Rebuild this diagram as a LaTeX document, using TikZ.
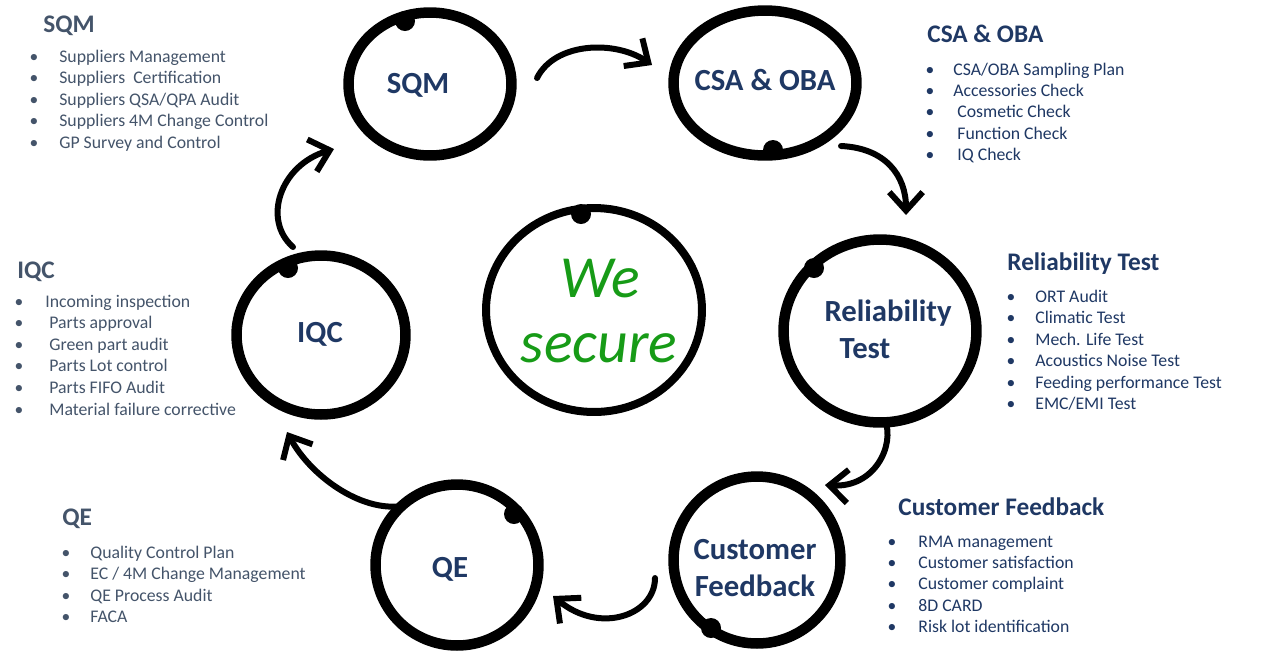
\documentclass[tikz,border=0pt]{standalone}
\usepackage{fontspec}
\setmainfont{Carlito}
\usetikzlibrary{shapes.geometric,arrows.meta}
\definecolor{navy}{HTML}{1F3864}
\definecolor{slate}{HTML}{44546A}
\definecolor{wegreen}{HTML}{179B17}
\tikzset{
 ring/.style={draw=black, ellipse, inner sep=0pt, line width=0.21cm},
 blob/.style={fill=black},
 lbl/.style={font=\fontsize{17.5}{21}\selectfont\bfseries, text=navy, inner sep=0pt, anchor=base},
 head/.style={font=\fontsize{14.4}{17}\selectfont\bfseries, anchor=base west, inner sep=0pt},
 item/.style={font=\fontsize{10.1}{12}\selectfont, anchor=base west, inner sep=0pt},
 bul/.style={font=\fontsize{10}{12}\selectfont, anchor=base, inner sep=0pt},
 brush/.style={line width=0.12cm, line cap=round, -{Straight Barb[length=10.5pt,width=19pt,line width=3.4pt]}},
 we/.style={font=\fontsize{34}{40}\selectfont\itshape, text=wegreen, inner sep=0pt, anchor=base},
}
\begin{document}
\begin{tikzpicture}[x=0.02cm,y=-0.02cm]
\useasboundingbox[fill=white] (0,0) rectangle (1280,654);

% circles
\node[ring, minimum width=3.26cm, minimum height=2.86cm] (sqm) at (430,84) {};
\node[ring, minimum width=3.66cm, minimum height=2.90cm] (csa) at (765,83) {};
\node[ring, minimum width=3.86cm, minimum height=3.66cm] (rel) at (880,331) {};
\node[ring, minimum width=3.34cm, minimum height=3.34cm] (cf) at (757,560) {};
\node[ring, minimum width=3.26cm, minimum height=3.22cm] (qe) at (457,565) {};
\node[ring, minimum width=3.38cm, minimum height=3.18cm] (iqc) at (321,335) {};
\node[ring, line width=0.16cm, minimum width=4.32cm, minimum height=4.08cm] (ctr) at (594,310) {};

% blobs where the hand-drawn strokes start
\fill[blob] (405,21) circle (10);
\fill[blob] (773,150) circle (10);
\fill[blob] (814,268) circle (10);
\fill[blob] (711,628) circle (10);
\fill[blob] (514,514) circle (10);
\fill[blob] (288,268) circle (10);
\fill[blob] (581,214) circle (10);

% circle labels
\node[lbl] (sqm-l) at (418,93) {SQM};
\node[lbl] (csa-l) at (765,90) {CSA \& OBA};
\node[lbl] (rel-l1) at (888,321) {Reliability};
\node[lbl] (rel-l2) at (865,358) {Test};
\node[lbl] (cf-l1) at (755,559) {Customer};
\node[lbl] (cf-l2) at (755,596) {Feedback};
\node[lbl] (qe-l) at (450,577) {QE};
\node[lbl] (iqc-l) at (320,342) {IQC};
\node[we] (we1) at (600,297) {We};
\node[we] (we2) at (599,362) {secure};

% arrows
\coordinate (a1s) at (537,78);  \coordinate (a1e) at (652,65);
\coordinate (a2s) at (841,146); \coordinate (a2e) at (906,215);
\coordinate (a3s) at (885,420); \coordinate (a3e) at (825,485);
\coordinate (a4s) at (655,578); \coordinate (a4e) at (553,596);
\coordinate (a5s) at (402,506); \coordinate (a5e) at (287,432);
\coordinate (a6s) at (293,247); \coordinate (a6e) at (334,149);

\draw[brush] (a1s) .. controls (555,42) and (615,40) .. (a1e);
\draw[brush] (a2s) .. controls (885,148) and (906,175) .. (a2e);
\draw[brush] (a3s) .. controls (895,445) and (875,488) .. (a3e);
\draw[brush] (a4s) .. controls (655,615) and (600,635) .. (a4e);
\draw[brush] (a5s) .. controls (360,512) and (310,475) .. (a5e);
\draw[brush] (a6s) .. controls (262,220) and (280,165) .. (a6e);

% SQM list
\node[head, text=slate] (sqm-h) at (43,32) {SQM};
\foreach \t [count=\i] in {Suppliers Management,Suppliers\ \ Certification,Suppliers QSA/QPA Audit,Suppliers 4M Change Control,GP Survey and Control}{
 \node[bul, text=slate] (sqm-b\i) at (34,{62+(\i-1)*21.5}) {•};
 \node[item, text=slate] (sqm-i\i) at (59,{62+(\i-1)*21.5}) {\t};
}

% CSA & OBA list
\node[head, text=navy] (csa-h) at (927,42) {CSA \& OBA};
\foreach \dx/\t [count=\i] in {0/{CSA/OBA Sampling Plan},0/{Accessories Check},4/{Cosmetic Check},4/{Function Check},4/{IQ Check}}{
 \node[bul, text=navy] (csa-b\i) at (930,{75+(\i-1)*21.4}) {•};
 \node[item, text=navy] (csa-i\i) at ({953+\dx},{75+(\i-1)*21.4}) {\t};
}

% Reliability list
\node[head, text=navy] (rel-h) at (1007,270) {Reliability Test};
\foreach \t [count=\i] in {ORT Audit,Climatic Test,Mech. Life Test,Acoustics Noise Test,Feeding performance Test,EMC/EMI Test}{
 \node[bul, text=navy] (rel-b\i) at (1011,{302+(\i-1)*21.5}) {•};
 \node[item, text=navy] (rel-i\i) at (1035,{302+(\i-1)*21.5}) {\t};
}

% Customer Feedback list
\node[head, text=navy] (cf-h) at (898,515) {Customer Feedback};
\foreach \t [count=\i] in {RMA management,Customer satisfaction,Customer complaint,8D CARD,Risk lot identification}{
 \node[bul, text=navy] (cf-b\i) at (892,{547+(\i-1)*21.4}) {•};
 \node[item, text=navy] (cf-i\i) at (918,{547+(\i-1)*21.4}) {\t};
}

% IQC list
\node[head, text=slate] (iqc-h) at (17,278) {IQC};
\foreach \dx/\t [count=\i] in {0/{Incoming inspection},4/{Parts approval},4/{Green part audit},4/{Parts Lot control},4/{Parts FIFO Audit},4/{Material failure corrective}}{
 \node[bul, text=slate] (iqc-b\i) at (19,{307+(\i-1)*21.6}) {•};
 \node[item, text=slate] (iqc-i\i) at ({45+\dx},{307+(\i-1)*21.6}) {\t};
}

% QE list
\node[head, text=slate] (qe-h) at (62,525) {QE};
\foreach \t [count=\i] in {Quality Control Plan,EC / 4M Change Management,QE Process Audit,FACA}{
 \node[bul, text=slate] (qe-b\i) at (66,{558+(\i-1)*21.5}) {•};
 \node[item, text=slate] (qe-i\i) at (90,{558+(\i-1)*21.5}) {\t};
}
\end{tikzpicture}
\end{document}
